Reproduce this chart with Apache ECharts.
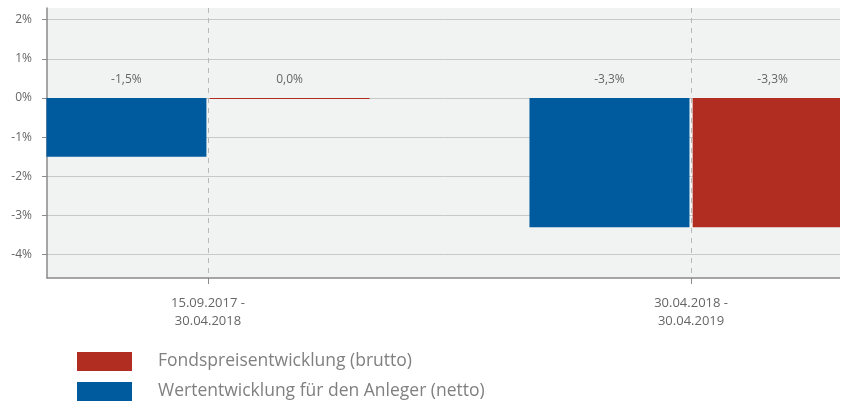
<!DOCTYPE html>
<html>
<head>
<meta charset="utf-8">
<script src="https://cdn.jsdelivr.net/npm/echarts@6/dist/echarts.min.js"></script>
<style>
  html, body { margin: 0; padding: 0; background: #ffffff; }
  #chart { width: 840px; height: 409px; }
</style>
</head>
<body>
<div id="chart"></div>
<script>
// Periods shown on the x axis
const periods = ['15.09.2017 -\n30.04.2018', '30.04.2018 -\n30.04.2019'];
// Performance per period, in percent
const netto = [-1.5, -3.3];
const brutto = [0.0, -3.3];
// Y axis tick values, in percent
const yTicks = [-4, -3, -2, -1, 0, 1, 2];

const nameNetto = 'Wertentwicklung für den Anleger (netto)';
const nameBrutto = 'Fondspreisentwicklung (brutto)';

// Each period sits on a continuous x axis, three units apart
const periodPos = periods.map((_, i) => i * 3 + 1);
const toPoints = vals => vals.map((v, i) => [periodPos[i], v]);

const fmtPct = v => v.toFixed(1).replace('.', ',') + '%';

const FONT = '"Open Sans", sans-serif';
const TEXT = '#666666';

const barLabel = {
  show: true,
  position: 'top',
  distance: 12,
  color: TEXT,
  fontFamily: FONT,
  fontSize: 12,
  formatter: p => fmtPct(p.value[1])
};

const chart = echarts.init(document.getElementById('chart'), null, { renderer: 'canvas' });
chart.setOption({
  animation: false,
  grid: {
    left: 47, right: 0, top: 8, bottom: 131,
    show: true, backgroundColor: '#f1f2f2', borderWidth: 0
  },
  legend: {
    orient: 'vertical',
    left: 77, top: 352,
    padding: 0,
    itemWidth: 55, itemHeight: 19, itemGap: 11,
    icon: 'rect',
    data: [nameBrutto, nameNetto],
    textStyle: { color: '#808080', fontFamily: FONT, fontSize: 17.5, padding: [0, 0, 0, 21] }
  },
  xAxis: {
    type: 'value',
    min: 0, max: 4.925,
    axisLine: { show: true, onZero: false, lineStyle: { color: '#8a8a8a', width: 1.5 } },
    axisTick: { show: true, customValues: periodPos, length: 6, lineStyle: { color: '#8a8a8a' } },
    axisLabel: {
      customValues: periodPos,
      margin: 16,
      lineHeight: 18,
      color: TEXT, fontFamily: FONT, fontSize: 13,
      formatter: v => periods[periodPos.indexOf(v)] || ''
    },
    splitLine: { show: true, lineStyle: { color: '#b8b8b8', type: [5, 5], width: 1 } }
  },
  yAxis: {
    type: 'value',
    min: -4.6, max: 2.3,
    axisLine: { show: true, lineStyle: { color: '#8a8a8a', width: 1.5 } },
    axisTick: { show: true, customValues: yTicks, length: 5, lineStyle: { color: '#8a8a8a' } },
    axisLabel: {
      customValues: yTicks,
      margin: 15,
      color: TEXT, fontFamily: FONT, fontSize: 12,
      formatter: v => v + '%'
    },
    splitLine: { show: true, lineStyle: { color: '#c8c8c8', width: 1 } }
  },
  series: [
    {
      name: nameNetto,
      type: 'bar',
      data: toPoints(netto),
      barWidth: 160,
      barGap: '2%',
      barMinHeight: 1,
      itemStyle: { color: '#005a9e' },
      label: barLabel
    },
    {
      name: nameBrutto,
      type: 'bar',
      data: toPoints(brutto),
      barWidth: 160,
      barGap: '2%',
      barMinHeight: 1,
      itemStyle: { color: '#b22d21' },
      label: barLabel
    }
  ]
});
</script>
</body>
</html>
